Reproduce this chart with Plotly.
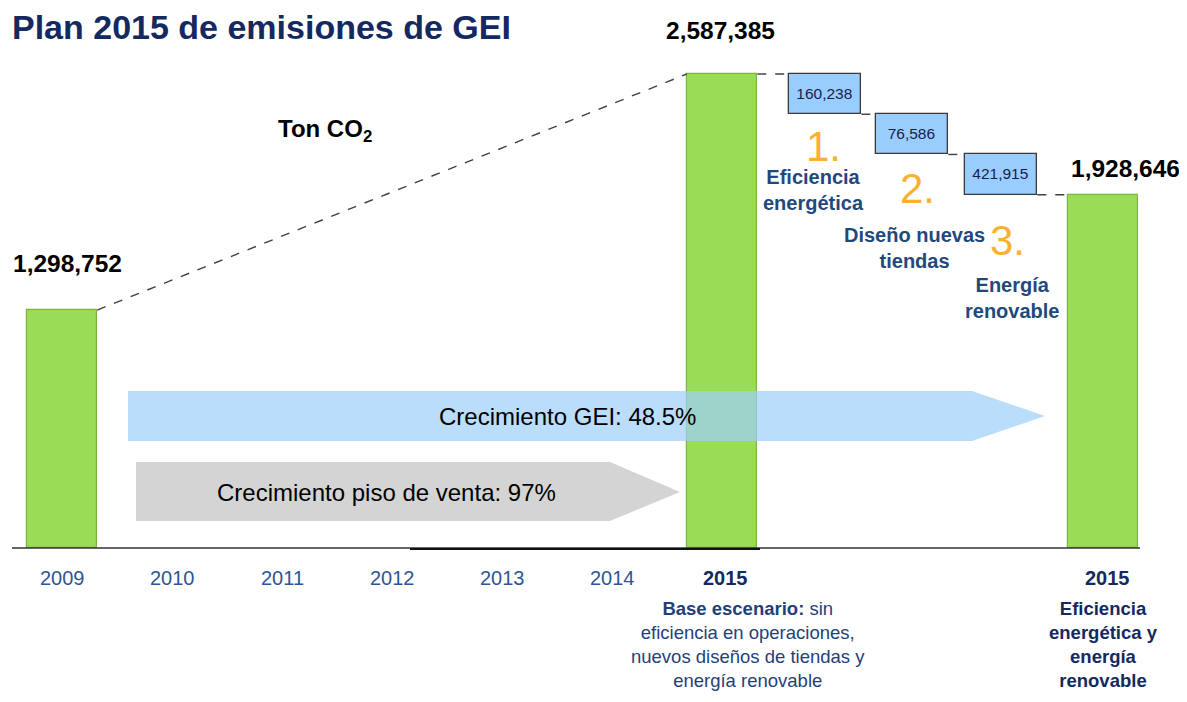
import plotly.graph_objects as go

# ---------------- data ----------------
years = ["2009", "2010", "2011", "2012", "2013", "2014"]
emissions_2009 = 1298752
emissions_2015_base = 2587385
reductions = [160238, 76586, 421915]
reduction_numbers = ["1.", "2.", "3."]
reduction_names = ["Eficiencia<br>energética", "Diseño nuevas<br>tiendas", "Energía<br>renovable"]
emissions_2015_plan = emissions_2015_base - sum(reductions)  # 1,928,646
growth_gei_pct = 48.5
growth_floor_pct = 97
unit_label = "Ton CO<sub>2</sub>"
title_text = "Plan 2015 de emisiones de GEI"
base_caption = "<b>Base escenario:</b> sin<br>eficiencia en operaciones,<br>nuevos diseños de tiendas y<br>energía renovable"
plan_caption = "<b>Eficiencia<br>energética y<br>energía<br>renovable</b>"

# ---------------- layout helpers (page pixel <-> data) ----------------
PAGE_W, PAGE_H = 1187, 702
OFF = 8                     # default body margin of the html page
W, H = PAGE_W - 2 * OFF, PAGE_H - 2 * OFF
X0, XS = 62.0, 110.0        # page pixel of slot 0, pixels per slot
Y0, YS = 548.0, 5458.6      # baseline page pixel, units per pixel


def X(px):
    return (px - X0) / XS


def Y(py):
    return (Y0 - py) * YS


GREEN = "#9BDC56"
GREEN_EDGE = "#7AB53E"
BOX = "#99CCFF"
NAVY = "#13295F"
ORANGE = "#FBB031"
FONT = "Liberation Sans, Arial, sans-serif"

bar_slots = [0, 6, X(1103)]
box_slots = [X(825), X(912), X(1001)]
bar_w = 0.64
box_w = 0.66

fig = go.Figure()

# main bars
bar_vals = [emissions_2009, emissions_2015_base, emissions_2015_plan]
fig.add_trace(go.Bar(
    x=bar_slots, y=bar_vals, width=bar_w,
    marker=dict(color=GREEN, line=dict(color=GREEN_EDGE, width=1.2)),
    hoverinfo="skip", showlegend=False,
))

# reduction boxes (drawn as equal steps spanning the total reduction)
step = (emissions_2015_base - emissions_2015_plan) / len(reductions)
tops = [emissions_2015_base - i * step for i in range(len(reductions))]
fig.add_trace(go.Bar(
    x=box_slots, y=[step] * len(reductions), base=[t - step for t in tops], width=box_w,
    marker=dict(color=BOX, line=dict(color="#3A3A3A", width=1.3)),
    text=[f"{v:,}" for v in reductions], textposition="inside", insidetextanchor="middle",
    textfont=dict(family=FONT, size=15.5, color="#1B1B4A"),
    hoverinfo="skip", showlegend=False,
))

# dashed connectors
dash = dict(color="#404040", width=1.4, dash="dash")
conn = [
    ([bar_slots[0] + bar_w / 2, bar_slots[1] - bar_w / 2], [emissions_2009, emissions_2015_base]),
    ([bar_slots[1] + bar_w / 2, box_slots[0] - box_w / 2], [emissions_2015_base, tops[0]]),
]
for i in range(len(reductions) - 1):
    conn.append(([box_slots[i] + box_w / 2, box_slots[i + 1] - box_w / 2], [tops[i] - step, tops[i + 1]]))
conn.append(([box_slots[-1] + box_w / 2, bar_slots[2] - bar_w / 2], [tops[-1] - step, emissions_2015_plan]))
for xs, ys in conn:
    fig.add_trace(go.Scatter(x=xs, y=ys, mode="lines", line=dash, hoverinfo="skip", showlegend=False))

shapes = []
# baseline
shapes.append(dict(type="line", xref="x", yref="y", x0=X(12), x1=X(1140), y0=0, y1=0,
                   line=dict(color="#333333", width=1.4), layer="above"))
shapes.append(dict(type="line", xref="x", yref="y", x0=X(410), x1=X(760), y0=Y(549), y1=Y(549),
                   line=dict(color="#111111", width=2.2), layer="above"))


def poly(pts):
    return "M " + " L ".join(f"{X(a)},{Y(b)}" for a, b in pts) + " Z"


# grey arrow (sales floor growth)
shapes.append(dict(type="path", xref="x", yref="y",
                   path=poly([(136, 462), (610, 462), (680, 492), (610, 521), (136, 521)]),
                   fillcolor="#D4D4D4", line=dict(width=0), layer="above"))
# blue arrow (GHG growth), translucent over bar
shapes.append(dict(type="path", xref="x", yref="y",
                   path=poly([(128, 391), (972, 391), (1045, 416), (972, 441), (128, 441)]),
                   fillcolor="rgba(160,208,250,0.72)", line=dict(width=0), layer="above"))

ann = []


def txt(text, px, py, size, color="black", bold=False, xanchor="center", family=FONT):
    ann.append(dict(text=f"<b>{text}</b>" if bold else text, x=X(px), y=Y(py), xref="x", yref="y",
                    xanchor=xanchor, yanchor="middle", showarrow=False,
                    font=dict(family=family, size=size, color=color)))


txt(title_text, 10, 27, 34, NAVY, bold=True, xanchor="left")
txt(unit_label, 276, 130, 24, "black", bold=True, xanchor="left")
txt(f"{emissions_2009:,}", 67, 263, 24.5, "black", bold=True)
txt(f"{emissions_2015_base:,}", 720, 30, 24.5, "black", bold=True)
txt(f"{emissions_2015_plan:,}", 1125, 168, 24.5, "black", bold=True)

num_pos = [(823, 146), (917, 188), (1007, 240)]
name_pos = [(813, 190), (914, 248), (1012, 298)]
for n, (a, b) in zip(reduction_numbers, num_pos):
    txt(n, a, b, 42, ORANGE)
for n, (a, b) in zip(reduction_names, name_pos):
    txt(n, a, b, 20, "#1F497D", bold=True)

txt(f"Crecimiento GEI: {growth_gei_pct}%", 567, 416, 24, "black")
txt(f"Crecimiento piso de venta: {growth_floor_pct}%", 386, 492, 24, "black")

for i, yr in enumerate(years):
    ann.append(dict(text=yr, x=i, y=Y(578), xref="x", yref="y", showarrow=False,
                    xanchor="center", yanchor="middle",
                    font=dict(family=FONT, size=20, color="#2E5597")))
txt("2015", 725, 578, 20, NAVY, bold=True)
txt("2015", 1107, 578, 20, NAVY, bold=True)

ann.append(dict(text=base_caption, x=X(748), y=Y(644), xref="x", yref="y", showarrow=False,
                xanchor="center", yanchor="middle", align="center",
                font=dict(family=FONT, size=18.5, color="#243F78")))
ann.append(dict(text=plan_caption, x=X(1103), y=Y(644), xref="x", yref="y", showarrow=False,
                xanchor="center", yanchor="middle", align="center",
                font=dict(family=FONT, size=18.5, color=NAVY)))

fig.update_layout(
    width=W, height=H, autosize=False,
    margin=dict(l=0, r=0, t=0, b=0),
    paper_bgcolor="white", plot_bgcolor="white",
    xaxis=dict(range=[X(OFF), X(OFF + W)], visible=False, fixedrange=True),
    yaxis=dict(range=[Y(OFF + H), Y(OFF)], visible=False, fixedrange=True),
    shapes=shapes, annotations=ann, barmode="overlay", bargap=0,
)

fig.write_html("out.html")
